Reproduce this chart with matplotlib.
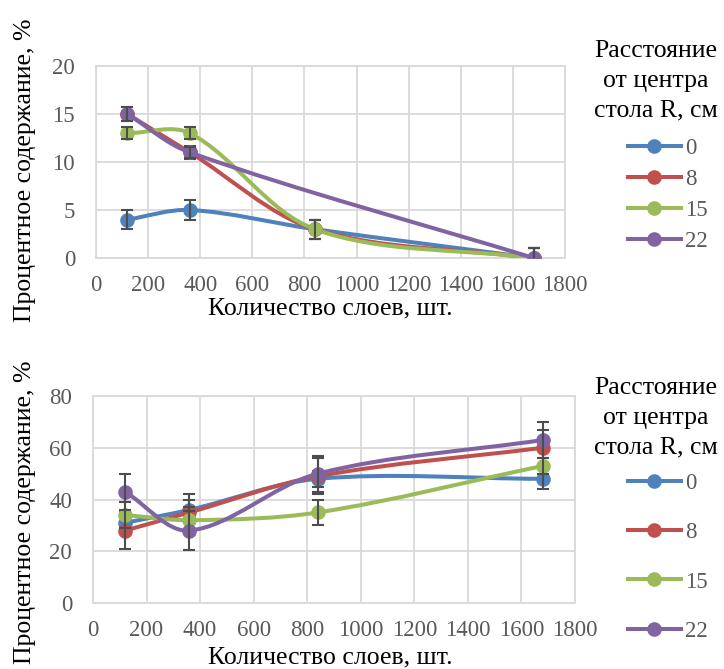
import matplotlib.pyplot as plt
import numpy as np
from matplotlib.path import Path
from matplotlib.patches import PathPatch
from matplotlib.lines import Line2D

plt.rcParams['font.family'] = ['Liberation Serif', 'DejaVu Serif']

# number of layers (x) for both panels
layers = [120, 360, 840, 1680]
radius_labels = ['0', '8', '15', '22']
colors = ['#4F81BD', '#C0504D', '#9BBB59', '#8064A2']

# upper panel, percent content per radius
top_x = [layers, layers, layers, [120, 360, 1680]]
top_y = [[4, 5, 3, 0],
         [15, 11, 3, 0],
         [13, 13, 3, 0],
         [15, 11, 0]]
top_err = [[1, 1, 1, 1],
           [0.7, 0.7, 1, 1],
           [0.6, 0.6, 1, 1],
           [0.7, 0.6, 1]]

# lower panel, percent content per radius
bot_y = [[31, 36, 48, 48],
         [28, 35, 49, 60],
         [34, 32, 35, 53],
         [43, 28, 50, 63]]
bot_err = [[4, 4, 3, 4],
           [7, 7, 7, 7],
           [5, 5, 5, 3],
           [7, 7.5, 7, 7]]

legend_title = 'Расстояние\nот центра\nстола R, см'
xlabel = 'Количество слоев, шт.'
ylabel = 'Процентное содержание, %'

W, H = 724, 669
fig = plt.figure(figsize=(W / 100, H / 100), dpi=100)


def px_axes(l, t, r, b):
    return fig.add_axes([l / W, 1 - b / H, (r - l) / W, (b - t) / H])


def smooth_patch(ax, x, y, color):
    # chord-length cubic spline through the points, built in display space
    pts = ax.transData.transform(np.column_stack([x, y]))
    n = len(pts)
    seg = np.hypot(*np.diff(pts, axis=0).T)
    tang = []
    for i in range(n):
        if i == 0:
            tang.append((pts[1] - pts[0]) / seg[0])
        elif i == n - 1:
            tang.append((pts[-1] - pts[-2]) / seg[-1])
        else:
            tang.append((pts[i + 1] - pts[i - 1]) / (seg[i - 1] + seg[i]))
    verts = [pts[0]]
    codes = [Path.MOVETO]
    for i in range(n - 1):
        c1 = pts[i] + tang[i] * seg[i] / 3
        c2 = pts[i + 1] - tang[i + 1] * seg[i] / 3
        verts += [c1, c2, pts[i + 1]]
        codes += [Path.CURVE4] * 3
    verts = ax.transData.inverted().transform(np.array(verts))
    ax.add_patch(PathPatch(Path(verts, codes), fill=False, edgecolor=color,
                           lw=2.9, capstyle='round', zorder=3))


def draw_panel(ax, xs, ys, errs, ymax, ystep, ylab_y, xlab_y):
    ax.set_xlim(0, 1800)
    ax.set_ylim(0, ymax)
    ax.set_xticks(np.arange(0, 1801, 200))
    ax.set_yticks(np.arange(0, ymax + 1, ystep))
    ax.grid(True, color='#D9D9D9', lw=1.3)
    ax.set_axisbelow(True)
    for s in ax.spines.values():
        s.set_color('#D9D9D9')
        s.set_linewidth(1.3)
    ax.tick_params(length=0, labelsize=16.5, colors='#595959')
    ax.tick_params(axis='x', pad=12)
    ax.tick_params(axis='y', pad=15)
    for i, (x, y, e) in enumerate(zip(xs, ys, errs)):
        z = 3 + i * 0.1
        smooth_patch(ax, x, y, colors[i])
        ax.plot(x, y, 'o', color=colors[i], ms=9.5, zorder=z + 0.02)
        ax.errorbar(x, y, yerr=e, fmt='none', ecolor='#4D4D4D', elinewidth=1.5,
                    capsize=4.5, capthick=1.5, zorder=z + 0.05)
    ax.set_xlabel(xlabel, fontsize=18.5)
    ax.set_ylabel(ylabel, fontsize=18.5)
    ax.xaxis.set_label_coords(330 / W, 1 - xlab_y / H, transform=fig.transFigure)
    ax.yaxis.set_label_coords(25 / W, 1 - ylab_y / H, transform=fig.transFigure)
    ax.xaxis.label.set_va('center')
    ax.yaxis.label.set_va('center')


def add_legend(title_y, top, spacing):
    fig.text(656 / W, 1 - title_y / H, legend_title, fontsize=18.5,
             ha='center', va='center', multialignment='center', linespacing=1.45)
    handles = [Line2D([], [], color=c, lw=2.9, marker='o', ms=9.5) for c in colors]
    fig.legend(handles, radius_labels, loc='upper left',
               bbox_to_anchor=(628 / W, 1 - top / H), frameon=False,
               fontsize=16.5, handlelength=2.3, handletextpad=0.2,
               labelspacing=spacing, labelcolor='#595959',
               borderpad=0, borderaxespad=0)


ax1 = px_axes(96, 66, 565, 258)
draw_panel(ax1, top_x, top_y, top_err, 20, 5, 170, 308)
add_legend(81, 138, 0.44)

ax2 = px_axes(93, 396, 575, 603)
draw_panel(ax2, [layers] * 4, bot_y, bot_err, 80, 20, 512, 657)
add_legend(418, 473, 1.23)

fig.savefig('out.png', dpi=100)
